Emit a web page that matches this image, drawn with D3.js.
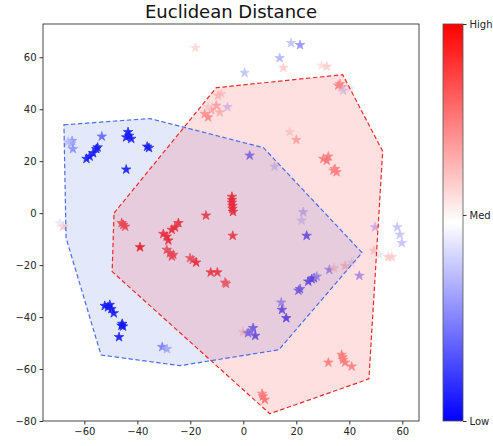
<!DOCTYPE html>
<html>
<head>
<meta charset="utf-8">
<script src="https://cdn.jsdelivr.net/npm/d3@7"></script>
<style>
  body { margin: 0; background: #fff; }
  svg { font-family: "DejaVu Sans", sans-serif; }
</style>
</head>
<body>
<svg id="chart"></svg>
<script>
// point positions (x, y) and colour value (0 = low/blue, 1 = high/red)
const pointX = [-64.6,-65.0,-64.3,-66.2,-59.2,-58.0,-56.7,-55.5,-55.0,-53.4,-43.5,-44.2,-42.3,-43.1,-36.3,-35.6,-44.2,
  -18.1,18.0,21.4,13.7,15.1,0.5,29.6,31.5,36.5,37.1,35.8,37.7,40.3,
  -13.3,-14.6,-12.1,-10.2,-8.9,-8.3,-9.5,-6.0,-13.3,17.5,20.0,2.4,11.8,
  30.2,32.1,31.5,34.6,35.2,34.0,22.6,22.0,
  -4.3,-4.3,-4.3,-4.1,-4.1,-3.9,-14.1,
  -45.3,-44.6,-45.9,-39.0,-30.2,-28.9,-28.3,-27.0,-25.8,-24.5,-4.0,
  -28.9,-27.7,-26.4,-27.0,-20.1,-19.1,-17.8,-12.3,-9.8,-6.9,-6.5,
  -68.0,-69.3,
  -52.3,-50.4,-49.8,-48.9,-51.1,-45.7,-45.4,-46.0,-46.9,-30.6,-28.8,
  14.3,14.6,16.2,20.8,21.4,-0.1,1.8,3.7,4.5,2.8,7.4,8.1,7.1,
  23.9,49.7,49.3,51.3,54.7,56.0,58.1,59.1,59.8,43.8,32.5,34.2,38.4,40.9,
  24.5,25.8,26.7,27.7,32.1,37.1,37.7,38.4,40.9,37.5];
const pointY = [27.8,26.8,24.7,27.4,20.9,21.8,23.1,24.7,25.3,29.5,31.2,29.2,28.6,29.8,25.6,25.1,16.8,
  63.6,65.5,64.7,59.7,55.9,54.0,56.8,56.4,49.7,48.5,49.1,47.2,48.2,
  36.9,38.2,39.7,41.4,38.8,45.9,45.2,40.8,40.8,31.2,28.2,22.2,17.9,
  20.9,21.8,20.2,17.0,15.8,16.4,0.4,-2.8,
  6.3,5.1,4.0,2.8,1.7,0.5,-0.9,
  -4.5,-5.2,-3.8,-13.1,-8.0,-9.0,-10.5,-6.4,-5.5,-3.8,-8.7,
  -14.1,-15.4,-16.0,-16.7,-17.3,-18.0,-19.0,-22.8,-22.8,-26.7,-27.2,
  -5.2,-3.8,
  -35.7,-35.3,-36.9,-38.5,-36.2,-42.6,-43.6,-43.3,-47.7,-51.5,-52.3,
  -34.4,-37.2,-40.4,-29.8,-29.2,-45.8,-46.2,-44.2,-47.2,-45.5,-70.5,-71.8,-69.5,
  -8.7,-5.4,-14.4,-16.0,-16.9,-16.9,-5.4,-8.3,-11.5,-24.1,-21.8,-21.2,-20.3,-19.2,
  -26.3,-25.4,-25.0,-24.4,-57.5,-54.5,-56.4,-57.5,-59.0,-55.4];
const pointV = [0.30,0.35,0.30,0.40,0.03,0.03,0.03,0.03,0.03,0.20,0.03,0.03,0.03,0.03,0.03,0.03,0.03,
  0.58,0.38,0.28,0.35,0.60,0.38,0.56,0.60,0.70,0.68,0.70,0.42,0.46,
  0.70,0.68,0.65,0.65,0.62,0.57,0.60,0.40,0.55,0.57,0.65,0.22,0.42,
  0.72,0.72,0.74,0.72,0.72,0.70,0.38,0.42,
  0.92,0.92,0.92,0.92,0.92,0.92,0.88,
  0.85,0.85,0.85,0.97,0.92,0.92,0.92,0.92,0.92,0.92,0.90,
  0.85,0.85,0.85,0.85,0.82,0.82,0.92,0.90,0.90,0.80,0.80,
  0.62,0.45,
  0.02,0.02,0.02,0.02,0.02,0.02,0.02,0.02,0.02,0.25,0.35,
  0.30,0.15,0.12,0.20,0.20,0.58,0.22,0.18,0.15,0.25,0.75,0.75,0.72,
  0.15,0.38,0.58,0.45,0.60,0.60,0.38,0.38,0.38,0.30,0.28,0.58,0.60,0.45,
  0.15,0.15,0.15,0.30,0.72,0.72,0.72,0.72,0.72,0.72];

// hull outlines
const blueHull = [[-67.7,34.0],[-35.2,36.4],[7.6,25.2],[44.8,-15.2],[13.4,-52.6],[-23.9,-58.7],[-53.7,-54.6],[-66.9,-9.5]];
const redHull = [[-48.8,0.0],[-10.2,48.3],[37.5,53.3],[52.6,23.8],[47.4,-63.8],[10.0,-77.2],[-49.5,-22.5]];

const xTicks = [-60,-40,-20,0,20,40,60];
const yTicks = [60,40,20,0,-20,-40,-60,-80];
const cbarTicks = [{v:1, label:'High'}, {v:0.519, label:'Med'}, {v:0, label:'Low'}];

const width = 493, height = 446;
const plot = {left: 43, right: 419, top: 24, bottom: 421};

const svg = d3.select('#chart').attr('width', width).attr('height', height);

const xscale = d3.scaleLinear().domain([-75.6, 66.3]).range([plot.left, plot.right]);
const yscale = d3.scaleLinear().domain([-80, 72.8]).range([plot.bottom, plot.top]);
const bwr = d3.scaleLinear().domain([0, 0.5, 1]).range(['#0000ff', '#ffffff', '#ff0000']);

const line = d3.line().x(d => xscale(d[0])).y(d => yscale(d[1])).curve(d3.curveLinearClosed);

// points
const star = d3.symbol().type(d3.symbolStar).size(28);
svg.append('g').selectAll('path')
  .data(pointX.map((x, i) => ({x: x, y: pointY[i], v: pointV[i]})))
  .join('path')
  .attr('d', star)
  .attr('transform', d => `translate(${xscale(d.x)},${yscale(d.y)})`)
  .attr('fill', d => bwr(d.v))
  .attr('stroke', d => bwr(d.v))
  .attr('stroke-width', 0.7)
  .attr('opacity', 0.9);

// hull fills, drawn over the points
svg.append('path').attr('d', line(blueHull)).attr('fill', 'rgba(65,105,225,0.15)').attr('stroke', 'none');
svg.append('path').attr('d', line(redHull)).attr('fill', 'rgba(255,0,0,0.12)').attr('stroke', 'none');

// hull outlines
svg.append('path').attr('d', line(redHull)).attr('fill', 'none')
  .attr('stroke', '#f02828').attr('stroke-width', 1.2).attr('stroke-dasharray', '4.5,2.5');
svg.append('path').attr('d', line(blueHull)).attr('fill', 'none')
  .attr('stroke', '#4a6cee').attr('stroke-width', 1.2).attr('stroke-dasharray', '4.5,2.5');

// axes
const xaxis = d3.axisBottom(xscale).tickValues(xTicks).tickSize(3.5).tickPadding(3);
const yaxis = d3.axisLeft(yscale).tickValues(yTicks).tickSize(3.5).tickPadding(3);

const xg = svg.append('g').attr('transform', `translate(0,${plot.bottom})`).call(xaxis);
const yg = svg.append('g').attr('transform', `translate(${plot.left},0)`).call(yaxis);
[xg, yg].forEach(g => {
  g.select('.domain').remove();
  g.selectAll('text').style('font-size', '10px').attr('fill', '#262626').style('font-family', '"DejaVu Sans", sans-serif');
  g.selectAll('line').attr('stroke', '#333');
});

svg.append('rect')
  .attr('x', plot.left).attr('y', plot.top)
  .attr('width', plot.right - plot.left).attr('height', plot.bottom - plot.top)
  .attr('fill', 'none').attr('stroke', '#333').attr('stroke-width', 0.9);

svg.append('text')
  .attr('x', (plot.left + plot.right) / 2).attr('y', 18)
  .attr('text-anchor', 'middle')
  .style('font-size', '18px')
  .attr('fill', '#111')
  .text('Euclidean Distance');

// colorbar
const cb = {x: 443, w: 20};
const defs = svg.append('defs');
const grad = defs.append('linearGradient').attr('id', 'bwr')
  .attr('x1', 0).attr('y1', 1).attr('x2', 0).attr('y2', 0);
[0, 0.5, 1].forEach(v => grad.append('stop').attr('offset', v).attr('stop-color', bwr(v)));

const cscale = d3.scaleLinear().domain([0, 1]).range([plot.bottom, plot.top]);
svg.append('rect')
  .attr('x', cb.x).attr('y', plot.top).attr('width', cb.w).attr('height', plot.bottom - plot.top)
  .attr('fill', 'url(#bwr)').attr('stroke', '#555').attr('stroke-width', 0.8);

const caxis = d3.axisRight(cscale).tickValues(cbarTicks.map(d => d.v))
  .tickFormat(v => cbarTicks.find(d => d.v === v).label).tickSize(3.5).tickPadding(3);
const cg = svg.append('g').attr('transform', `translate(${cb.x + cb.w},0)`).call(caxis);
cg.select('.domain').remove();
cg.selectAll('text').style('font-size', '10px').attr('fill', '#262626').style('font-family', '"DejaVu Sans", sans-serif');
cg.selectAll('line').attr('stroke', '#333');
</script>
</body>
</html>
